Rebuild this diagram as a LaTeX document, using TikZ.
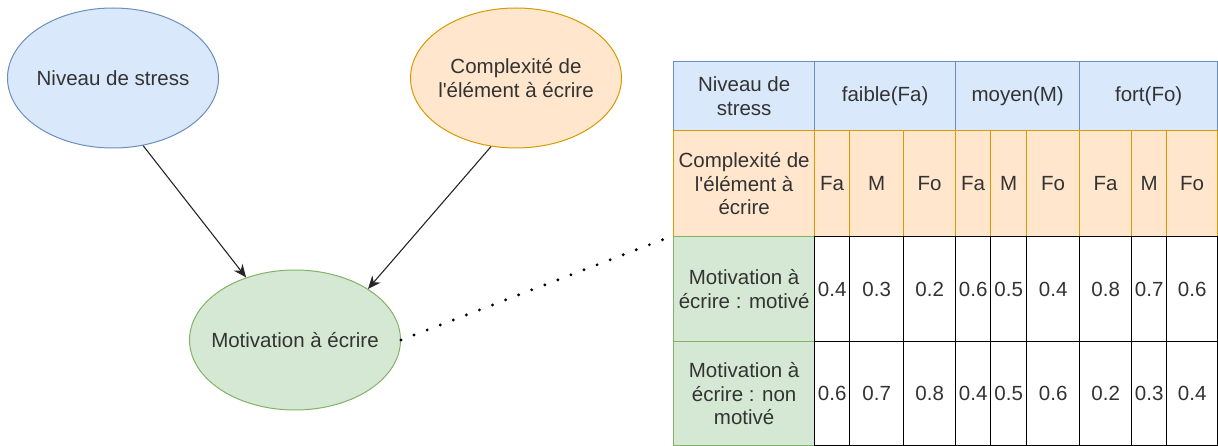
\documentclass[tikz,border=0pt]{standalone}
\usepackage{fontspec}
\setmainfont{Liberation Sans}
\usetikzlibrary{positioning,shapes.geometric,arrows.meta}
\usepackage{xcolor}
\definecolor{bluefill}{HTML}{DAE8FC}
\definecolor{blueline}{HTML}{6C8EBF}
\definecolor{orangefill}{HTML}{FFE6CC}
\definecolor{orangeline}{HTML}{D79B00}
\definecolor{greenfill}{HTML}{D5E8D4}
\definecolor{greenline}{HTML}{82B366}
\definecolor{txt}{HTML}{333333}
\tikzset{
var/.style={ellipse, draw, line width=1pt, minimum width=211pt, minimum height=140pt, inner xsep=-30pt, inner ysep=0pt, align=center, text=txt},
cell/.style={rectangle, draw, line width=1.3pt, anchor=north west, inner sep=0pt, align=center, text=txt},
head/.style={fill=bluefill, draw=blueline},
cplx/.style={fill=orangefill, draw=orangeline},
motv/.style={fill=greenfill, draw=greenline},
data/.style={fill=white, draw=black},
arr/.style={-{Stealth[length=13pt,width=11pt]}, line width=1.1pt, draw=black!85},
dots/.style={line width=3.2pt, line cap=round, dash pattern=on 0pt off 14pt}
}
% one cell of the table: name, style, x1, y1, x2, y2, text
\newcommand{\tcell}[7]{\node[cell,#2,minimum width={(#5-#3)*1pt},minimum height={(#6-#4)*1pt}] (#1) at (#3,#4) {#7};}

\begin{document}
\begin{tikzpicture}[x=1pt, y=-1pt, font=\fontsize{20.5}{23.5}\selectfont]
\useasboundingbox (0,0) rectangle (1218,446);
% variables
\node[var, fill=bluefill, draw=blueline] (niv) at (113,78) {Niveau de stress};
\node[var, fill=orangefill, draw=orangeline] (cpx) at (516,78) {Complexité de\\l\textquotesingle élément à écrire};
\node[var, fill=greenfill, draw=greenline] (mot) at (295,340) {Motivation à écrire};
\draw[arr] (niv.-66) -- (mot.128);
\draw[arr] (cpx.-110) -- (mot.35);
\coordinate (tip) at (667,238);
\draw[dots] (mot.east) -- (tip);
% table
\tcell{h0}{head}{673}{61}{814}{130}{Niveau de\\stress}
\tcell{h1}{head}{814}{61}{955}{130}{faible(Fa)}
\tcell{h2}{head}{955}{61}{1079}{130}{moyen(M)}
\tcell{h3}{head}{1079}{61}{1217}{130}{fort(Fo)}
\tcell{c0}{cplx}{673}{130}{814}{236}{Complexité de\\l\textquotesingle élément à\\écrire}
\tcell{m0}{motv}{673}{236}{814}{341}{Motivation à\\écrire : motivé}
\tcell{n0}{motv}{673}{341}{814}{445}{Motivation à\\écrire : non\\motivé}
\foreach \xa/\xb/\lv/\pa/\pb [count=\i] in {
814/849/Fa/0.4/0.6, 849/903/M/0.3/0.7, 903/955/Fo/0.2/0.8,
955/990/Fa/0.6/0.4, 990/1026/M/0.5/0.5, 1026/1079/Fo/0.4/0.6,
1079/1131/Fa/0.8/0.2, 1131/1166/M/0.7/0.3, 1166/1217/Fo/0.6/0.4}{
\tcell{c\i}{cplx}{\xa}{130}{\xb}{236}{\lv}
\tcell{m\i}{data}{\xa}{236}{\xb}{341}{\pa}
\tcell{n\i}{data}{\xa}{341}{\xb}{445}{\pb}
}
\end{tikzpicture}
\end{document}
